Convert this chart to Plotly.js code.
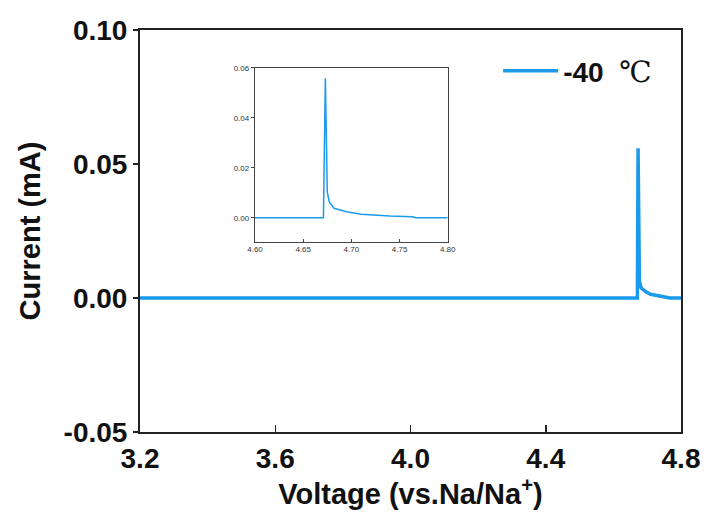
<!DOCTYPE html>
<html>
<head>
<meta charset="utf-8">
<script src="https://cdn.plot.ly/plotly-3.0.1.min.js"></script>
<style>html,body{margin:0;padding:0;background:#fff;}#chart{width:705px;height:512px;}</style>
</head>
<body>
<div id="chart"></div>
<script>
// Voltage (V vs. Na/Na+) and current (mA)
const voltage = [3.2, 3.6, 4.0, 4.4, 4.66, 4.671, 4.673, 4.675, 4.677, 4.682, 4.695, 4.71, 4.74, 4.763, 4.767, 4.8];
const current = [0, 0, 0, 0, 0, 0, 0.0559, 0.0104, 0.0064, 0.0038, 0.0024, 0.0014, 0.0007, 0.0004, 0, 0];
const seriesName = '<b>-40</b>  <span style="font-family:DejaVu Serif;font-size:29px">℃</span>';
const mainXTicks = [3.2, 3.6, 4.0, 4.4, 4.8];
const mainXLabels = ['3.2', '3.6', '4.0', '4.4', '4.8'];
const mainYTicks = [-0.05, 0.00, 0.05, 0.10];
const mainYLabels = ['-0.05', '0.00', '0.05', '0.10'];
const insetXTicks = [4.60, 4.65, 4.70, 4.75, 4.80];
const insetXLabels = ['4.60', '4.65', '4.70', '4.75', '4.80'];
const insetYTicks = [0.00, 0.02, 0.04, 0.06];
const insetYLabels = ['0.00', '0.02', '0.04', '0.06'];

const lineColor = '#1b9aeb';
const axisColor = '#222';

const traces = [
  {x: voltage, y: current, type: 'scatter', mode: 'lines', name: seriesName,
   line: {color: lineColor, width: 3.5}, xaxis: 'x', yaxis: 'y'},
  {x: voltage, y: current, type: 'scatter', mode: 'lines', showlegend: false,
   line: {color: lineColor, width: 1.5}, xaxis: 'x2', yaxis: 'y2'}
];

const layout = {
  width: 705, height: 512,
  margin: {l: 140, r: 24, t: 30, b: 80},
  paper_bgcolor: '#fff', plot_bgcolor: '#fff',
  font: {family: 'Liberation Sans, Arial, sans-serif', color: '#111'},
  showlegend: true,
  legend: {x: 0.662, y: 0.96, xanchor: 'left', yanchor: 'top', bgcolor: 'rgba(0,0,0,0)',
           itemwidth: 55,
           font: {size: 28, color: '#111', family: 'Liberation Sans, Arial, sans-serif'}},
  xaxis: {
    domain: [0, 1], range: [3.2, 4.8], tickvals: mainXTicks, ticktext: mainXLabels,
    ticks: 'inside', ticklen: 7, tickwidth: 1.5, tickcolor: axisColor,
    showline: true, linecolor: axisColor, linewidth: 2, mirror: true,
    showgrid: false, zeroline: false,
    tickfont: {size: 28, family: 'Liberation Sans, Arial, sans-serif', weight: 'bold', color: '#111'},
    title: {text: '<b>Voltage (vs.Na/Na<sup>+</sup>)</b>', font: {size: 29, color: '#111'}, standoff: 3}
  },
  yaxis: {
    domain: [0, 1], range: [-0.05, 0.10], tickvals: mainYTicks, ticktext: mainYLabels,
    ticks: 'outside', ticklen: 5, tickwidth: 1.5, tickcolor: axisColor,
    showline: true, linecolor: axisColor, linewidth: 2, mirror: true,
    showgrid: false, zeroline: false,
    tickfont: {size: 28, family: 'Liberation Sans, Arial, sans-serif', weight: 'bold', color: '#111'},
    title: {text: '<b>Current (mA)</b>', font: {size: 29, color: '#111'}, standoff: 14}
  },
  xaxis2: {
    domain: [0.2126, 0.5688], anchor: 'y2', range: [4.60, 4.80], tickvals: insetXTicks, ticktext: insetXLabels,
    ticks: 'inside', ticklen: 3, tickwidth: 1, tickcolor: '#444',
    showline: true, linecolor: '#444', linewidth: 1.2, mirror: true,
    showgrid: false, zeroline: false,
    tickfont: {size: 8, color: '#333'}
  },
  yaxis2: {
    domain: [0.4734, 0.9055], anchor: 'x2', range: [-0.0096, 0.06], tickvals: insetYTicks, ticktext: insetYLabels,
    ticks: 'outside', ticklen: 3, tickwidth: 1, tickcolor: '#444',
    showline: true, linecolor: '#444', linewidth: 1.2, mirror: true,
    showgrid: false, zeroline: false,
    tickfont: {size: 8, color: '#333'}
  }
};

Plotly.newPlot('chart', traces, layout, {displayModeBar: false, staticPlot: true});
</script>
</body>
</html>
